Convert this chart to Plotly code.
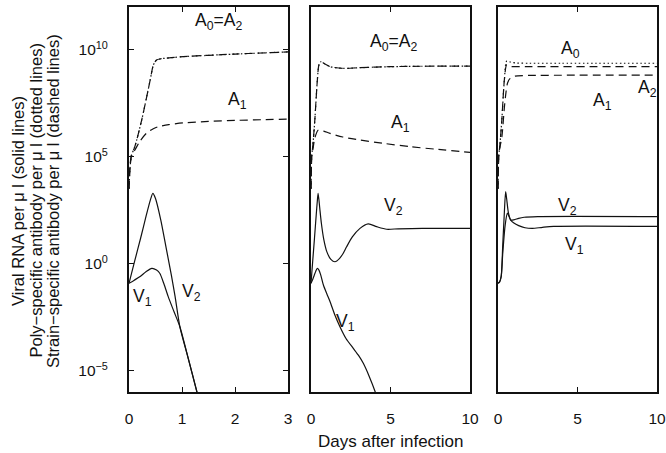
import plotly.graph_objects as go

# ---------------------------------------------------------------
# Model output, read as (days, log10 concentration per µl)
# ---------------------------------------------------------------

# Panel 1 (0-3 days)
p1_v1_t = [0, 0.1, 0.21, 0.32, 0.43, 0.52, 0.58, 0.66, 0.74, 0.85, 0.96, 1.12, 1.28, 1.33]
p1_v1 = [-0.92, -0.77, -0.6, -0.38, -0.22, -0.3, -0.45, -0.95, -1.54, -2.25, -2.95, -4.45, -5.98, -6.45]
p1_v2_t = [0, 0.11, 0.22, 0.33, 0.4, 0.45, 0.5, 0.6, 0.7, 0.8, 0.87, 0.96, 1.12, 1.28, 1.33]
p1_v2 = [-0.92, 0.15, 1.2, 2.3, 2.95, 3.29, 3.05, 2.04, 0.75, -0.55, -1.54, -2.95, -4.45, -5.98, -6.45]
p1_a0_t = [0, 0.02, 0.05, 0.11, 0.24, 0.4, 0.46, 0.52, 0.6, 0.8, 1.02, 1.5, 2, 2.5, 3]
p1_a0 = [3.5, 4.5, 5.08, 5.47, 6.72, 8.59, 9.29, 9.52, 9.58, 9.63, 9.68, 9.74, 9.8, 9.85, 9.9]
p1_a2_t = p1_a0_t
p1_a2 = p1_a0
p1_a1_t = [0, 0.02, 0.05, 0.11, 0.2, 0.33, 0.45, 0.55, 0.75, 1.02, 1.5, 2, 2.5, 3]
p1_a1 = [3.5, 4.6, 5.12, 5.31, 5.7, 6.1, 6.3, 6.4, 6.5, 6.58, 6.65, 6.7, 6.73, 6.76]

# Panel 2 (0-10 days)
p2_v1_t = [0, 0.1, 0.2, 0.3, 0.4, 0.5, 0.6, 0.78, 1.0, 1.2, 1.5, 1.82, 2.2, 2.66, 3.0, 3.29, 3.65, 4.03, 4.2]
p2_v1 = [-0.92, -0.75, -0.55, -0.35, -0.22, -0.3, -0.5, -1.0, -1.42, -1.78, -2.4, -2.95, -3.5, -3.96, -4.3, -4.66, -5.25, -5.98, -6.4]
p2_v2_t = [0, 0.11, 0.22, 0.33, 0.4, 0.45, 0.55, 0.65, 0.8, 1.0, 1.25, 1.51, 1.8, 2.0, 2.24, 2.6, 3.08, 3.6, 4.13, 4.76, 5.5, 7, 10]
p2_v2 = [-0.92, 0.15, 1.2, 2.3, 2.95, 3.29, 2.6, 1.9, 1.15, 0.55, 0.2, 0.09, 0.25, 0.45, 0.79, 1.25, 1.65, 1.86, 1.73, 1.61, 1.63, 1.65, 1.65]
p2_a0_t = [0, 0.05, 0.11, 0.24, 0.4, 0.5, 0.62, 0.85, 1.2, 2.04, 3, 4.97, 7, 10]
p2_a0 = [3.5, 5.08, 5.47, 6.72, 8.59, 9.3, 9.44, 9.35, 9.21, 9.13, 9.16, 9.21, 9.23, 9.24]
p2_a2_t = p2_a0_t
p2_a2 = p2_a0
p2_a1_t = [0, 0.05, 0.11, 0.25, 0.46, 0.8, 1.2, 2, 3.08, 4.5, 6.23, 8, 10]
p2_a1 = [3.5, 5.08, 5.3, 5.9, 6.25, 6.2, 6.09, 5.92, 5.78, 5.63, 5.47, 5.34, 5.2]

# Panel 3 (0-10 days)
p3_v1_t = [0, 0.1, 0.2, 0.3, 0.45, 0.59, 0.7, 0.8, 1.0, 1.3, 1.7, 2.16, 2.8, 3.5, 10]
p3_v1 = [-0.92, -0.85, -0.6, 0.5, 1.8, 2.36, 2.2, 2.04, 1.9, 1.78, 1.68, 1.65, 1.7, 1.74, 1.74]
p3_v2_t = [0, 0.1, 0.2, 0.3, 0.4, 0.48, 0.55, 0.65, 0.8, 1.0, 1.3, 1.64, 2.5, 10]
p3_v2 = [-0.92, -0.85, -0.6, 0.9, 2.4, 3.37, 3.0, 2.4, 2.04, 2.05, 2.12, 2.17, 2.2, 2.2]
p3_a0_t = [0, 0.05, 0.11, 0.24, 0.4, 0.55, 0.8, 1.2, 2, 4, 10]
p3_a0 = [3.5, 5.08, 5.47, 6.72, 8.59, 9.48, 9.42, 9.38, 9.37, 9.37, 9.37]
p3_a2_t = [0, 0.05, 0.11, 0.24, 0.4, 0.55, 0.8, 1.07, 2, 10]
p3_a2 = [3.5, 5.08, 5.47, 6.72, 8.59, 9.3, 9.22, 9.21, 9.21, 9.21]
p3_a1_t = [0, 0.05, 0.11, 0.24, 0.4, 0.5, 0.6, 0.75, 1.07, 2, 4, 10]
p3_a1 = [3.5, 5.08, 5.4, 5.9, 7.3, 8.0, 8.45, 8.65, 8.77, 8.8, 8.81, 8.82]

x_ranges = [[0, 3], [0, 10], [0, 10]]
x_ticks = [[0, 1, 2, 3], [0, 5, 10], [0, 5, 10]]
y_exp_range = [-6, 12]
y_tick_exps = [-5, 0, 5, 10]

W, H = 666, 453
INK = "#111111"
FONT = "Liberation Sans, Arial, sans-serif"

# pixel frame of each panel
panel_px = [(129, 288), (311, 470), (498, 657)]
top_px, bottom_px = 7, 392

fig = go.Figure()

styles = {
    "v": dict(color=INK, width=1.2),
    "a0": dict(color=INK, width=1.2, dash="1.5px,2.6px"),
    "a": dict(color=INK, width=1.2, dash="8px,5px"),
}

panels = [
    [(p1_v1_t, p1_v1, "v"), (p1_v2_t, p1_v2, "v"), (p1_a1_t, p1_a1, "a"),
     (p1_a2_t, p1_a2, "a"), (p1_a0_t, p1_a0, "a0")],
    [(p2_v1_t, p2_v1, "v"), (p2_v2_t, p2_v2, "v"), (p2_a1_t, p2_a1, "a"),
     (p2_a2_t, p2_a2, "a"), (p2_a0_t, p2_a0, "a0")],
    [(p3_v1_t, p3_v1, "v"), (p3_v2_t, p3_v2, "v"), (p3_a1_t, p3_a1, "a"),
     (p3_a2_t, p3_a2, "a"), (p3_a0_t, p3_a0, "a0")],
]

for i, series in enumerate(panels):
    suffix = "" if i == 0 else str(i + 1)
    for t, lg, kind in series:
        fig.add_trace(go.Scatter(
            x=t, y=[10 ** v for v in lg], mode="lines",
            line=dict(shape="spline", smoothing=0.7, **styles[kind]),
            xaxis="x" + suffix, yaxis="y" + suffix,
            showlegend=False, hoverinfo="skip",
        ))

layout = dict(
    width=W, height=H, margin=dict(l=0, r=0, t=0, b=0),
    paper_bgcolor="white", plot_bgcolor="white",
    template="none", showlegend=False,
    font=dict(family=FONT, size=15, color=INK),
)

y_dom = [1 - bottom_px / H, 1 - top_px / H]
for i, (x0, x1) in enumerate(panel_px):
    suffix = "" if i == 0 else str(i + 1)
    layout["xaxis" + suffix] = dict(
        domain=[x0 / W, x1 / W], range=x_ranges[i], tickvals=x_ticks[i],
        ticktext=[str(v) for v in x_ticks[i]],
        ticks="inside", ticklen=5, tickwidth=1, tickcolor=INK,
        showline=True, linecolor=INK, linewidth=2, mirror="ticks",
        showgrid=False, zeroline=False, anchor="y" + suffix,
        tickfont=dict(size=15.5, color=INK), ticklabelstandoff=11,
        automargin=False, fixedrange=True,
    )
    yax = dict(
        domain=y_dom, type="log", range=y_exp_range,
        showline=True, linecolor=INK, linewidth=2,
        showgrid=False, zeroline=False, anchor="x" + suffix,
        automargin=False, fixedrange=True,
    )
    if i == 0:
        yax.update(
            tickvals=[10 ** e for e in y_tick_exps],
            ticktext=["10<sup>%s</sup>" % ("−5" if e == -5 else e) for e in y_tick_exps],
            ticks="inside", ticklen=5, tickwidth=1, tickcolor=INK, mirror="ticks",
            tickfont=dict(size=15.5, color=INK), ticklabelstandoff=16,
        )
    else:
        yax.update(showticklabels=False, ticks="", mirror=True)
    layout["yaxis" + suffix] = yax

fig.update_layout(**layout)

# curve labels: (panel, day, log10 value, text)
curve_labels = [
    (0, 1.68, 11.3, "A<sub>0</sub>=A<sub>2</sub>"),
    (0, 2.04, 7.65, "A<sub>1</sub>"),
    (0, 0.26, -1.56, "V<sub>1</sub>"),
    (0, 1.17, -1.37, "V<sub>2</sub>"),
    (1, 5.16, 10.36, "A<sub>0</sub>=A<sub>2</sub>"),
    (1, 5.6, 6.53, "A<sub>1</sub>"),
    (1, 5.16, 2.65, "V<sub>2</sub>"),
    (1, 2.14, -2.73, "V<sub>1</sub>"),
    (2, 4.53, 9.99, "A<sub>0</sub>"),
    (2, 9.43, 8.21, "A<sub>2</sub>"),
    (2, 6.6, 7.6, "A<sub>1</sub>"),
    (2, 4.4, 2.65, "V<sub>2</sub>"),
    (2, 4.78, 0.87, "V<sub>1</sub>"),
]
for p, t, lg, txt in curve_labels:
    suffix = "" if p == 0 else str(p + 1)
    fig.add_annotation(x=t, y=lg, xref="x" + suffix, yref="y" + suffix,
                       text=txt, showarrow=False, xanchor="center", yanchor="middle",
                       font=dict(size=17.5, color=INK, family=FONT))

# y-axis title, one line per quantity
y_title_lines = [
    "Viral RNA per μ l (solid lines)",
    "Poly−specific antibody per μ l (dotted lines)",
    "Strain−specific antibody per μ l (dashed lines)",
]
for k, line in enumerate(y_title_lines):
    fig.add_annotation(x=(18 + 17.5 * k) / W, y=1 - 201 / H, xref="paper", yref="paper",
                       text=line, textangle=-90, showarrow=False,
                       xanchor="center", yanchor="middle",
                       font=dict(size=16.5, color=INK, family=FONT))

fig.add_annotation(x=390.5 / W, y=1 - 441 / H, xref="paper", yref="paper",
                   text="Days after infection", showarrow=False,
                   xanchor="center", yanchor="middle",
                   font=dict(size=17, color=INK, family=FONT))

fig.write_html("out.html", config={"displayModeBar": False})
